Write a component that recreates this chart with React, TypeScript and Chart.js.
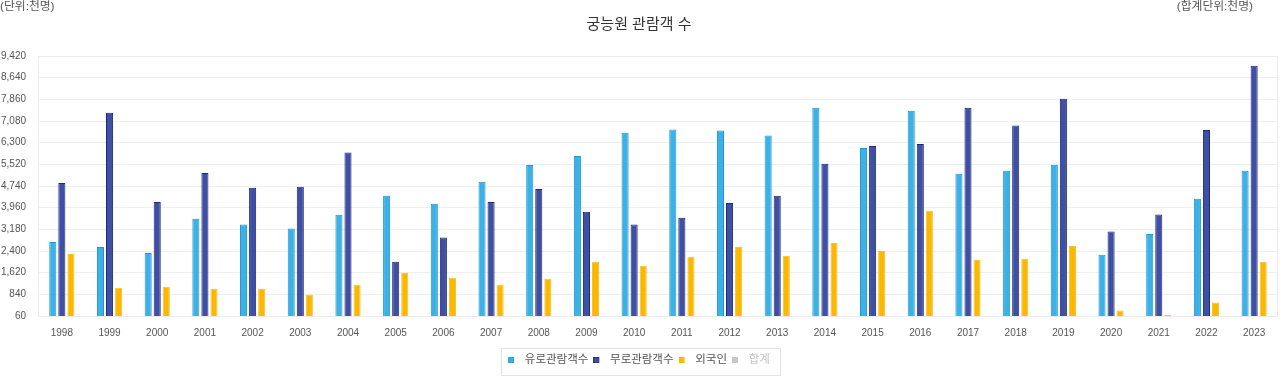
import React, { useEffect, useRef } from "react";
import { Chart, registerables } from "chart.js";

Chart.register(...registerables);

const years = [
  "1998", "1999", "2000", "2001", "2002", "2003", "2004", "2005", "2006", "2007",
  "2008", "2009", "2010", "2011", "2012", "2013", "2014", "2015", "2016", "2017",
  "2018", "2019", "2020", "2021", "2022", "2023",
];

const paidVisitors = [
  2724, 2544, 2328, 3563, 3358, 3214, 3707, 4391, 4103, 4895,
  5496, 5820, 6659, 6778, 6742, 6562, 7559, 6108, 7451, 5183,
  5291, 5507, 2267, 3012, 4283, 5291,
];

const freeVisitors = [
  4848, 7379, 4164, 5208, 4679, 4715, 5950, 2015, 2890, 4164,
  4632, 3815, 3358, 3599, 4128, 4391, 5543, 6180, 6252, 7559,
  6922, 7883, 3106, 3718, 6756, 9071,
];

const foreignVisitors = [
  2292, 1079, 1115, 1043, 1043, 827, 1187, 1619, 1439, 1187,
  1403, 2015, 1871, 2195, 2544, 2231, 2688, 2400, 3851, 2087,
  2123, 2580, 262, 96, 550, 2015,
];

const totalVisitors: number[] = [];

const seriesNames = ["유로관람객수", "무로관람객수", "외국인", "합계"];
const yTicks = { min: 60, max: 9420, step: 780 };

const FONT = "'Liberation Sans', 'Noto Sans CJK KR', 'Noto Sans', sans-serif";

function makeSwatch(fill: string, stroke: string) {
  const c = document.createElement("canvas");
  c.width = 11;
  c.height = 6;
  const g = c.getContext("2d");
  if (g) {
    g.fillStyle = fill;
    g.fillRect(0, 0, 6, 6);
    g.strokeStyle = stroke;
    g.lineWidth = 1;
    g.strokeRect(0.5, 0.5, 5, 5);
  }
  return c;
}

export default function App() {
  const canvasRef = useRef<HTMLCanvasElement | null>(null);

  useEffect(() => {
    if (!canvasRef.current) return;
    Chart.defaults.font.family = FONT;

    const swatches = [
      makeSwatch("#3db1e5", "#2aa6df"),
      makeSwatch("#3f4fa3", "#27378f"),
      makeSwatch("#fbb800", "#fbb800"),
      makeSwatch("#c8c8c8", "#c8c8c8"),
    ];

    const cornerText = {
      id: "cornerText",
      afterDraw(chart: any) {
        const ctx = chart.ctx;
        ctx.save();
        ctx.font = `11.8px ${FONT}`;
        ctx.fillStyle = "#555555";
        ctx.textBaseline = "middle";
        ctx.textAlign = "left";
        ctx.fillText("(단위:천명)", 0, 7);
        ctx.textAlign = "right";
        ctx.fillText("(합계단위:천명)", 1253, 7);
        ctx.restore();
      },
    };

    const frameAndLegendBox = {
      id: "frameAndLegendBox",
      beforeDatasetsDraw(chart: any) {
        const { ctx, chartArea } = chart;
        ctx.save();
        ctx.strokeStyle = "#ececec";
        ctx.lineWidth = 1;
        ctx.strokeRect(
          Math.round(chartArea.left) + 0.5,
          Math.round(chartArea.top) + 0.5,
          Math.round(chartArea.right - chartArea.left) - 1,
          Math.round(chartArea.bottom - chartArea.top)
        );
        ctx.restore();
      },
      afterDraw(chart: any) {
        const lg = chart.legend;
        if (!lg || !lg.legendHitBoxes || !lg.legendHitBoxes.length) return;
        const boxes = lg.legendHitBoxes;
        let l = Infinity, r = -Infinity, t = Infinity;
        boxes.forEach((h: any) => {
          l = Math.min(l, h.left);
          r = Math.max(r, h.left + h.width);
          t = Math.min(t, h.top);
        });
        const ctx = chart.ctx;
        ctx.save();
        ctx.strokeStyle = "#e3e3e3";
        ctx.lineWidth = 1;
        const x0 = Math.round(l - 7) + 0.5;
        const y0 = Math.round(t - 7) + 0.5;
        const x1 = Math.round(r + 10) + 0.5;
        const y1 = 375.5;
        ctx.strokeRect(x0, y0, x1 - x0, y1 - y0);
        ctx.restore();
      },
    };

    const chart = new Chart(canvasRef.current, {
      type: "bar",
      data: {
        labels: years,
        datasets: [
          {
            label: seriesNames[0],
            data: paidVisitors,
            backgroundColor: "#3db1e5",
            borderColor: "#1a9ad6",
            borderWidth: 1,
          },
          {
            label: seriesNames[1],
            data: freeVisitors,
            backgroundColor: "#3f4fa3",
            borderColor: "#1b2a80",
            borderWidth: 1,
          },
          {
            label: seriesNames[2],
            data: foreignVisitors,
            backgroundColor: "#fbb800",
            borderColor: "#fbc02d",
            borderWidth: 1,
          },
          {
            label: seriesNames[3],
            data: totalVisitors,
            backgroundColor: "#c8c8c8",
            borderColor: "#c8c8c8",
            borderWidth: 1,
            hidden: true,
          },
        ],
      },
      options: {
        animation: false,
        responsive: true,
        maintainAspectRatio: false,
        datasets: {
          bar: { categoryPercentage: 0.57, barPercentage: 0.78 },
        },
        layout: { padding: { left: 0, right: 2, top: 0, bottom: 0 } },
        plugins: {
          title: {
            display: true,
            text: "궁능원 관람객 수",
            color: "#333333",
            font: { size: 15, weight: "normal", family: FONT },
            padding: { top: 16, bottom: 22 },
          },
          tooltip: { enabled: true },
          legend: {
            display: true,
            position: "bottom",
            labels: {
              usePointStyle: true,
              pointStyleWidth: 11,
              boxHeight: 6,
              padding: 5,
              color: "#555555",
              font: { size: 11.5, family: FONT },
              generateLabels(ch: any) {
                const items = Chart.defaults.plugins.legend.labels.generateLabels(ch);
                return items.map((it: any, i: number) => {
                  const base = { ...it, pointStyle: swatches[i] };
                  if (it.hidden) {
                    return { ...base, hidden: false, fontColor: "#c4c4c4" };
                  }
                  return { ...base, fontColor: "#555555" };
                });
              },
            },
          },
        },
        scales: {
          x: {
            grid: { display: false, drawTicks: false },
            border: { display: false },
            ticks: {
              color: "#555555",
              font: { size: 10, family: FONT },
              padding: 11,
              maxRotation: 0,
              autoSkip: false,
            },
            afterFit(scale: any) {
              scale.height = 33.5;
            },
          },
          y: {
            min: yTicks.min,
            max: yTicks.max,
            grid: { color: "#efefef", drawTicks: false },
            border: { display: false },
            ticks: {
              stepSize: yTicks.step,
              color: "#555555",
              font: { size: 10, family: FONT },
              padding: 12,
              callback: (v: any) => Number(v).toLocaleString("en-US"),
            },
            afterFit(scale: any) {
              scale.width = 38;
            },
          },
        },
      },
      plugins: [cornerText, frameAndLegendBox],
    } as any);

    return () => chart.destroy();
  }, []);

  return (
    <div style={{ position: "fixed", left: 0, top: 0, width: 1280, height: 376 }}>
      <canvas ref={canvasRef} />
    </div>
  );
}
